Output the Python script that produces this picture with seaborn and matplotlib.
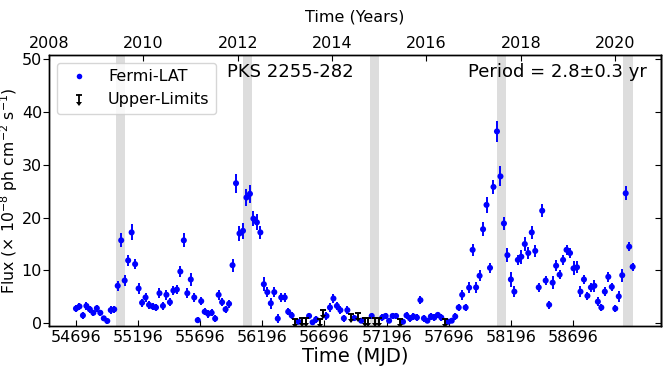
import numpy as np
import pandas as pd
import matplotlib
matplotlib.use("Agg")
import matplotlib.pyplot as plt
import seaborn as sns
from matplotlib.lines import Line2D
from matplotlib.legend_handler import HandlerBase
from matplotlib.markers import CARETDOWNBASE

# ---------------- data ----------------
t_fermi = [54696, 54724, 54752, 54780, 54808, 54836, 54864, 54892, 54920, 54948,
           54976, 55004, 55032, 55060, 55088, 55116, 55144, 55172, 55200, 55228,
           55256, 55284, 55312, 55340, 55368, 55396, 55424, 55452, 55480, 55508,
           55536, 55564, 55592, 55620, 55648, 55676, 55704, 55732, 55760, 55788,
           55816, 55844, 55872, 55900, 55928, 55956, 55984, 56012, 56040, 56068,
           56096, 56124, 56152, 56180, 56208, 56236, 56264, 56292, 56320, 56348,
           56376, 56404, 56432, 56488, 56572, 56600, 56628, 56712, 56740, 56768,
           56796, 56824, 56852, 56880, 56936, 56992, 57076, 57160, 57188, 57216,
           57244, 57272, 57328, 57356, 57384, 57412, 57440, 57468, 57496, 57524,
           57552, 57580, 57608, 57636, 57692, 57720, 57748, 57776, 57804, 57832,
           57860, 57888, 57916, 57944, 57972, 58000, 58028, 58056, 58084, 58112,
           58140, 58168, 58196, 58224, 58252, 58280, 58308, 58336, 58364, 58392,
           58420, 58448, 58476, 58504, 58532, 58560, 58588, 58616, 58644, 58672,
           58700, 58728, 58756, 58784, 58812, 58840, 58868, 58896, 58924, 58952,
           58980, 59008, 59036, 59064, 59092, 59120, 59148, 59176]
f_fermi = [2.8, 3.2, 1.5, 3.3, 2.65, 2.0, 2.85, 2.0, 0.95, 0.45,
           2.5, 2.65, 7.1, 15.7, 8.1, 11.9, 17.2, 11.2, 6.6, 3.9,
           4.9, 3.5, 3.2, 3.0, 5.7, 3.3, 5.4, 4.0, 6.2, 6.4,
           9.8, 15.7, 5.7, 8.3, 4.9, 0.6, 4.2, 2.2, 1.8, 2.0,
           0.9, 5.4, 4.0, 2.65, 3.7, 11.0, 26.5, 17.0, 17.5, 23.8,
           24.5, 19.8, 19.1, 17.2, 7.4, 5.9, 3.8, 5.9, 0.9, 4.9,
           4.9, 2.2, 1.5, 0.3, 1.4, 0.2, 0.75, 1.4, 3.0, 4.7,
           3.3, 2.5, 0.95, 2.5, 1.0, 0.5, 1.4, 1.1, 1.4, 0.5,
           1.4, 1.4, 0.3, 1.5, 0.95, 1.3, 1.1, 4.4, 0.95, 0.5,
           1.3, 1.1, 1.6, 1.1, 0.3, 0.5, 1.3, 3.0, 5.4, 3.0,
           6.75, 13.9, 6.8, 9.0, 17.8, 22.4, 10.5, 25.8, 36.3, 27.8,
           18.9, 12.9, 8.3, 6.0, 12.0, 12.6, 15.0, 13.3, 17.2, 13.7,
           6.8, 21.3, 8.1, 3.5, 7.7, 10.9, 9.2, 12.0, 13.9, 13.3,
           10.4, 10.6, 6.0, 8.3, 5.2, 6.8, 7.1, 4.1, 3.0, 6.0,
           8.8, 6.9, 2.8, 5.1, 9.1, 24.6, 14.5, 10.7]
e_fermi = [0.7, 0.7, 0.6, 0.7, 0.7, 0.6, 0.7, 0.6, 0.5, 0.5,
           0.7, 0.7, 1.0, 1.3, 1.1, 1.1, 1.5, 1.0, 1.0, 0.8,
           0.9, 0.8, 0.7, 0.7, 0.9, 0.7, 0.9, 0.8, 0.9, 0.9,
           1.1, 1.3, 0.9, 1.2, 0.8, 0.6, 0.8, 0.7, 0.7, 0.7,
           0.6, 0.9, 0.8, 0.7, 0.8, 1.2, 1.8, 1.5, 1.5, 1.6,
           1.7, 1.4, 1.5, 1.3, 1.3, 1.0, 1.0, 0.9, 0.9, 0.9,
           0.9, 0.7, 0.6, 0.5, 0.6, 0.5, 0.6, 0.7, 0.8, 0.8,
           0.7, 0.7, 0.6, 0.7, 0.6, 0.5, 0.6, 0.6, 0.6, 0.5,
           0.6, 0.6, 0.5, 0.6, 0.6, 0.6, 0.6, 0.8, 0.6, 0.5,
           0.6, 0.6, 0.6, 0.6, 0.5, 0.5, 0.6, 0.7, 0.9, 0.7,
           1.0, 1.1, 1.0, 1.0, 1.3, 1.5, 1.0, 1.4, 2.0, 1.9,
           1.2, 1.3, 1.5, 1.0, 1.0, 1.3, 1.3, 1.2, 1.3, 1.2,
           0.8, 1.2, 0.9, 0.8, 1.2, 1.0, 0.9, 0.9, 1.0, 1.0,
           1.3, 1.1, 1.0, 0.8, 0.8, 0.9, 1.1, 0.9, 0.7, 0.8,
           0.9, 0.8, 0.7, 1.1, 1.2, 1.3, 0.9, 0.8]

t_ul = [56460, 56516, 56544, 56656, 56684, 56908, 56964, 57020, 57048,
        57104, 57132, 57300, 57664]
f_ul = [0.9, 1.0, 1.0, 0.9, 2.6, 1.8, 2.0, 1.0, 1.0, 1.0, 1.0, 0.8, 0.8]

band_start = [55018, 56037, 57061, 58082, 59101]
band_end = [55093, 56114, 57135, 58157, 59178]

mjd_ticks = [54696, 55196, 55696, 56196, 56696, 57196, 57696, 58196, 58696]
year_ticks = [2008, 2010, 2012, 2014, 2016, 2018, 2020]
y_ticks = [0, 10, 20, 30, 40, 50]

source_name = "PKS 2255-282"
period_text = "Period = 2.8\u00b10.3 yr"


class HandlerUL(HandlerBase):
    def create_artists(self, legend, orig_handle, xdescent, ydescent,
                       width, height, fontsize, trans):
        xc = 0.5 * width - xdescent
        yc = 0.5 * height - ydescent
        top = yc + 0.32 * height
        bot = yc - 0.32 * height
        bar = Line2D([xc, xc], [bot, top], color='black', lw=1.3, transform=trans)
        cap = Line2D([xc], [top], marker='_', ms=5, mew=1.3, color='black',
                     transform=trans)
        car = Line2D([xc], [bot], marker=CARETDOWNBASE, ms=4, color='black',
                     mew=0, transform=trans)
        return [bar, cap, car]


# ---------------- plotting ----------------
sns.set_style("ticks")
plt.rcParams['font.family'] = ['DejaVu Sans']
plt.rcParams['axes.edgecolor'] = 'black'
plt.rcParams['axes.linewidth'] = 1.0
plt.rcParams['text.color'] = 'black'
plt.rcParams['axes.labelcolor'] = 'black'
plt.rcParams['xtick.color'] = 'black'
plt.rcParams['ytick.color'] = 'black'

fig = plt.figure(figsize=(6.66, 3.70), dpi=100)
ax = fig.add_axes([49 / 666, 44 / 370, 612 / 666, 271 / 370])

for s, e in zip(band_start, band_end):
    ax.axvspan(s, e, color='#dddddd', lw=0, zorder=0)

df = pd.DataFrame({'MJD': t_fermi, 'Flux': f_fermi, 'Err': e_fermi})
ax.errorbar(df['MJD'], df['Flux'], yerr=df['Err'], fmt='none',
            ecolor='blue', elinewidth=1.4, zorder=2)
sns.scatterplot(data=df, x='MJD', y='Flux', color='blue', s=19,
                edgecolor='none', linewidth=0, ax=ax, legend=False, zorder=3)

# upper limits: cap at the limit, bar and arrow pointing down
ul_len = 1.0
ul_arr = np.array(f_ul)
ax.vlines(t_ul, ul_arr - ul_len, ul_arr, color='black', lw=1.4, zorder=3)
ax.plot(t_ul, ul_arr, ls='none', marker='_', ms=5, mew=1.4, color='black', zorder=3)
ax.plot(t_ul, ul_arr - ul_len, ls='none', marker=CARETDOWNBASE, ms=4, mew=0,
        color='black', zorder=3)

ax.set_xlim(54479, 59404)
ax.set_ylim(-0.5, 50.75)
ax.set_xticks(mjd_ticks)
ax.set_yticks(y_ticks)
ax.tick_params(axis='x', direction='in', labelsize=11.5, length=4, pad=3)
ax.tick_params(axis='y', direction='out', labelsize=11.5, length=4, pad=1)
ax.set_xlabel('Time (MJD)', fontsize=14, labelpad=1)
ax.set_ylabel('Flux (\u00d7 10$^{-8}$ ph cm$^{-2}$ s$^{-1}$)', fontsize=11.3, labelpad=1)

axr = ax.secondary_yaxis('right')
axr.set_yticks(y_ticks)
axr.tick_params(direction='in', length=4, labelright=False)

ax.text(0.291, 0.937, source_name, transform=ax.transAxes, fontsize=13,
        ha='left', va='center')
ax.text(0.977, 0.937, period_text, transform=ax.transAxes, fontsize=13,
        ha='right', va='center')

h_fermi = Line2D([], [], ls='none', marker='o', ms=4, color='blue', mew=0)
h_ul = Line2D([], [], color='black')
ax.legend([h_fermi, h_ul], ['Fermi-LAT', 'Upper-Limits'], loc='upper left',
          fontsize=11.5, frameon=True, handletextpad=0.8,
          handler_map={h_ul: HandlerUL()})

ax2 = ax.twiny()
ax2.set_xlim(2008.0, 2020.97)
ax2.set_xticks(year_ticks)
ax2.tick_params(axis='x', direction='in', labelsize=11.5, length=4, pad=3)
ax2.set_xlabel('Time (Years)', fontsize=11.5, labelpad=10)
for sp in list(ax.spines.values()) + list(ax2.spines.values()):
    sp.set_visible(True)
    sp.set_color('black')

fig.savefig('out.png', dpi=100)
